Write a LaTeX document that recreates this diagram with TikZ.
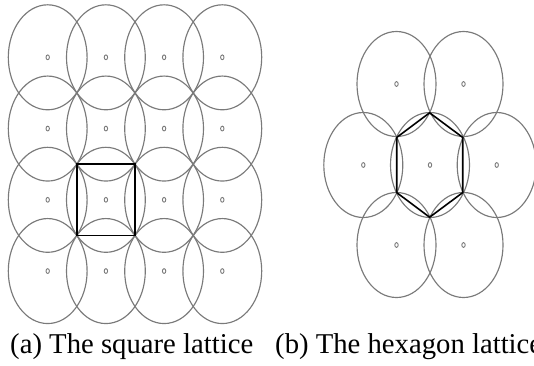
\documentclass[tikz,border=0pt]{standalone}
\usepackage{fontspec}
\setmainfont{Liberation Serif}
\definecolor{ringgray}{HTML}{7A7A7A}
\begin{document}
\begin{tikzpicture}[x=1pt,y=-1pt,
  ring/.style={draw=ringgray,line width=1.15pt},
  centermark/.style={draw=ringgray,line width=0.9pt},
  cell/.style={draw=black,line width=1.6pt,line join=miter},
  caption/.style={anchor=base west,inner sep=0pt,font=\fontsize{28.7}{34}\selectfont}]
\useasboundingbox (0,0) rectangle (534,365);
% (a) square lattice
\foreach \i in {0,1,2,3}{
  \foreach \j in {0,1,2,3}{
    \coordinate (s\i\j) at ({47.7+58.2*\i},{57.3+71.25*\j});
    \draw[ring] (s\i\j) ellipse [x radius=39.4pt, y radius=52.5pt];
    \draw[centermark] (s\i\j) ellipse [x radius=1.7pt, y radius=2.4pt];
  }
}
\coordinate (q1) at (76.8,164.2);
\coordinate (q2) at (134.9,164.2);
\coordinate (q3) at (134.9,235.6);
\coordinate (q4) at (76.8,235.6);
\draw[cell] (q1) -- (q2) -- (q3) -- (q4) -- cycle;
% (b) hexagon lattice
\coordinate (h0) at (430,165);
\coordinate (h1) at (363.3,165);
\coordinate (h2) at (496.7,165);
\coordinate (h3) at (396.5,84);
\coordinate (h4) at (463.5,84);
\coordinate (h5) at (396.5,245);
\coordinate (h6) at (463.5,245);
\foreach \k in {0,...,6}{
  \draw[ring] (h\k) ellipse [x radius=39.5pt, y radius=52.5pt];
  \draw[centermark] (h\k) ellipse [x radius=1.7pt, y radius=2.4pt];
}
\coordinate (v1) at (429.6,112.8);
\coordinate (v2) at (396.7,137.4);
\coordinate (v3) at (396.7,192.6);
\coordinate (v4) at (429.6,217.2);
\coordinate (v5) at (462.7,192.6);
\coordinate (v6) at (462.7,137.4);
\draw[cell] (v1) -- (v2) -- (v3) -- (v4) -- (v5) -- (v6) -- cycle;
% captions
\node[caption] (capa) at (10,353.3) {(a) The square lattice};
\node[caption] (capb) at (275,353.3) {(b) The hexagon lattice};
\end{tikzpicture}
\end{document}
